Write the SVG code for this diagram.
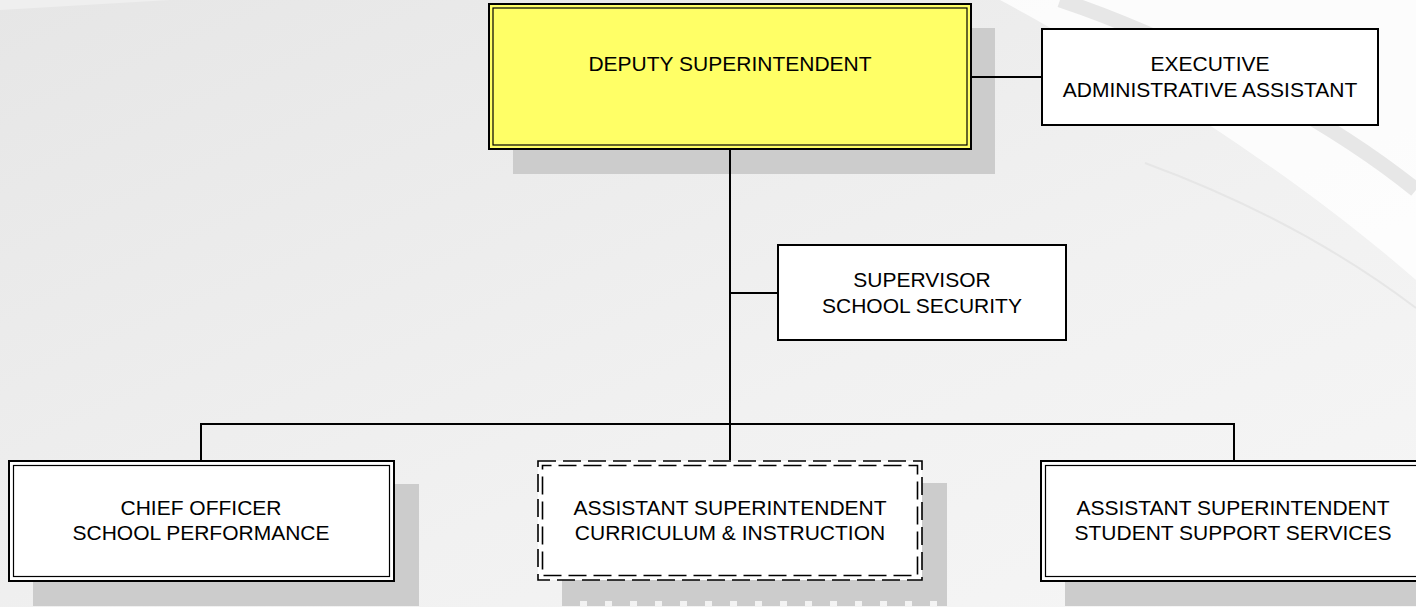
<svg xmlns="http://www.w3.org/2000/svg" width="1416" height="607" viewBox="0 0 1416 607">
  <defs>
    <linearGradient id="bg" x1="0" y1="0" x2="1" y2="1">
      <stop offset="0" stop-color="#e6e6e6"/>
      <stop offset="0.6" stop-color="#f1f1f1"/>
      <stop offset="1" stop-color="#f6f6f6"/>
    </linearGradient>
  </defs>
  <style>
    .shadow { fill: #cccccc; }
    .outer { fill: none; stroke: #000; stroke-width: 2; }
    .inner { fill: none; stroke: #000; stroke-width: 1.2; }
    .box { fill: #ffffff; }
    .single { fill: #ffffff; stroke: #000; stroke-width: 2; }
    .dash { fill: none; stroke: #000; stroke-width: 1.6; stroke-dasharray: 18 7; }
    .conn { fill: none; stroke: #000; stroke-width: 2; }
    text { font-family: "Liberation Sans", Arial, sans-serif; font-size: 21px; fill: #000; text-anchor: middle; }
  </style>

  <!-- background -->
  <rect x="0" y="0" width="1416" height="607" fill="url(#bg)"/>
  <path d="M0,10 L170,0 L0,0 Z" fill="#efefef"/>
  <path d="M1000,0 C1130,70 1290,170 1416,280 L1416,0 Z" fill="#ffffff" opacity="0.8"/>
  <path d="M1060,0 C1180,40 1330,120 1416,190" fill="none" stroke="#e7e7e7" stroke-width="15"/>
  <path d="M1145,163 Q1300,220 1416,308" fill="none" stroke="#e6e6e6" stroke-width="2"/>

  <g id="deputy">
    <rect class="shadow" x="513" y="28" width="482" height="146"/>
    <rect x="489" y="4" width="482" height="145" fill="#ffff66" stroke="#000" stroke-width="2"/>
    <rect class="inner" x="493" y="8" width="474" height="137"/>
    <text x="730" y="71">DEPUTY SUPERINTENDENT</text>
  </g>

  <g id="exec-assistant">
    <rect class="single" x="1042" y="29" width="336" height="96"/>
    <text x="1210" y="71">EXECUTIVE</text>
    <text x="1210" y="97">ADMINISTRATIVE ASSISTANT</text>
  </g>

  <g id="supervisor">
    <rect class="single" x="778" y="245" width="288" height="95"/>
    <text x="922" y="287">SUPERVISOR</text>
    <text x="922" y="313">SCHOOL SECURITY</text>
  </g>

  <g id="chief-officer">
    <rect class="shadow" x="33" y="484" width="386" height="122"/>
    <rect class="box" x="9" y="461" width="385" height="120"/>
    <rect class="outer" x="9" y="461" width="385" height="120"/>
    <rect class="inner" x="13.5" y="465.5" width="376" height="111"/>
    <text x="201" y="515">CHIEF OFFICER</text>
    <text x="201" y="540">SCHOOL PERFORMANCE</text>
  </g>

  <g id="asst-curriculum">
    <rect class="shadow" x="562" y="483" width="385" height="118"/>
    <line x1="562" y1="603.5" x2="947" y2="603.5" stroke="#cccccc" stroke-width="5" stroke-dasharray="18 7"/>
    <rect class="box" x="538" y="461" width="384" height="119"/>
    <rect class="dash" x="538" y="461" width="384" height="119"/>
    <rect class="dash" x="542.5" y="465.5" width="375" height="110" stroke-width="1.2" stroke-dashoffset="9"/>
    <text x="730" y="515">ASSISTANT SUPERINTENDENT</text>
    <text x="730" y="540">CURRICULUM &amp; INSTRUCTION</text>
  </g>

  <g id="asst-student-support">
    <rect class="shadow" x="1065" y="484" width="400" height="122"/>
    <rect class="box" x="1041" y="461" width="400" height="120"/>
    <rect class="outer" x="1041" y="461" width="400" height="120"/>
    <rect class="inner" x="1045.5" y="465.5" width="400" height="111"/>
    <text x="1233" y="515">ASSISTANT SUPERINTENDENT</text>
    <text x="1233" y="540">STUDENT SUPPORT SERVICES</text>
  </g>

  <!-- connectors -->
  <g id="connectors">
    <line class="conn" x1="971" y1="77" x2="1042" y2="77"/>
    <line class="conn" x1="730" y1="150" x2="730" y2="460"/>
    <line class="conn" x1="730" y1="293" x2="777" y2="293"/>
    <line class="conn" x1="201" y1="424" x2="1234" y2="424"/>
    <line class="conn" x1="201" y1="423" x2="201" y2="460"/>
    <line class="conn" x1="1234" y1="423" x2="1234" y2="460"/>
  </g>
</svg>
